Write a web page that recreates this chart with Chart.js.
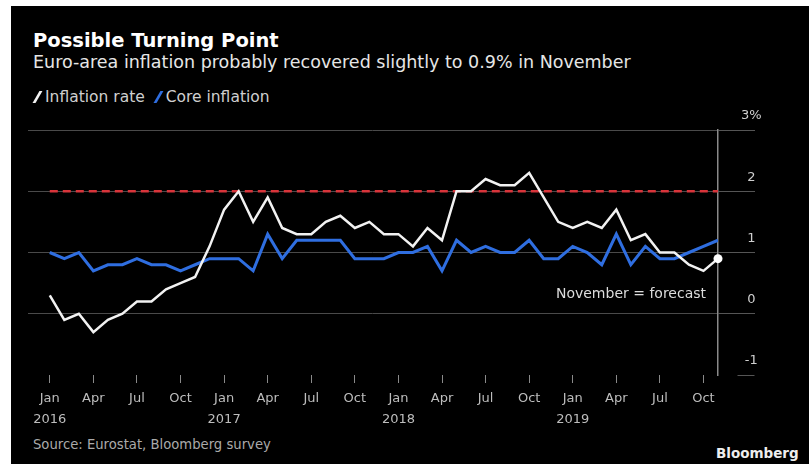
<!DOCTYPE html>
<html>
<head>
<meta charset="utf-8">
<script src="https://cdn.jsdelivr.net/npm/chart.js@4/dist/chart.umd.min.js"></script>
<style>
  body { margin: 0; background: #fff; width: 809px; height: 464px; overflow: hidden; font-family: "DejaVu Sans", sans-serif; }
  #panel { position: absolute; left: 11px; top: 6px; width: 798px; height: 458px; background: #000; }
  .t { position: absolute; white-space: nowrap; }
  #title { left: 22px; top: 24px; font-size: 19.5px; line-height: 22px; font-weight: bold; color: #fff; }
  #subtitle { left: 22px; top: 46px; font-size: 17.5px; line-height: 20px; color: #e6e6e6; }
  #legend { left: 22px; top: 83px; font-size: 15.5px; line-height: 16px; color: #cfcfcf; }
  .slash { display: inline-block; width: 3px; height: 12px; transform: skewX(-30deg); margin: 0 6px 0 3px; vertical-align: -1px; }
  #source { left: 22px; top: 431px; font-size: 13.2px; line-height: 15px; color: #aaa; }
  #brand { left: 705px; top: 440px; font-size: 13.5px; line-height: 15px; font-weight: bold; color: #eee; }
  #wrap { position: absolute; left: 0; top: 104px; }
</style>
</head>
<body>
<div id="panel">
  <div class="t" id="title">Possible Turning Point</div>
  <div class="t" id="subtitle">Euro-area inflation probably recovered slightly to 0.9% in November</div>
  <div class="t" id="legend"><span class="slash" style="background:#f2f2f2"></span>Inflation rate <span class="slash" style="background:#2f6ee0;margin-left:7px"></span>Core inflation</div>
  <div id="wrap"><canvas id="chart" width="798" height="320"></canvas></div>
  <div class="t" id="source">Source: Eurostat, Bloomberg survey</div>
  <div class="t" id="brand">Bloomberg</div>
</div>
<script>
// monthly, Jan 2016 .. Nov 2019
const months = ["Jan", "Feb", "Mar", "Apr", "May", "Jun", "Jul", "Aug", "Sep", "Oct", "Nov", "Dec"];
const startYear = 2016;

const inflation = [
  0.3, -0.1, 0.0, -0.3, -0.1, 0.0, 0.2, 0.2, 0.4, 0.5, 0.6, 1.1,
  1.7, 2.0, 1.5, 1.9, 1.4, 1.3, 1.3, 1.5, 1.6, 1.4, 1.5, 1.3,
  1.3, 1.1, 1.4, 1.2, 2.0, 2.0, 2.2, 2.1, 2.1, 2.3, 1.9, 1.5,
  1.4, 1.5, 1.4, 1.7, 1.2, 1.3, 1.0, 1.0, 0.8, 0.7, 0.9
];
const core = [
  1.0, 0.9, 1.0, 0.7, 0.8, 0.8, 0.9, 0.8, 0.8, 0.7, 0.8, 0.9,
  0.9, 0.9, 0.7, 1.3, 0.9, 1.2, 1.2, 1.2, 1.2, 0.9, 0.9, 0.9,
  1.0, 1.0, 1.1, 0.7, 1.2, 1.0, 1.1, 1.0, 1.0, 1.2, 0.9, 0.9,
  1.1, 1.0, 0.8, 1.3, 0.8, 1.1, 0.9, 0.9, 1.0, 1.1, 1.2
];
const target = 2;

const xTicks = [0, 3, 6, 9, 12, 15, 18, 21, 24, 27, 30, 33, 36, 39, 42, 45];
const yTicks = [-1, 0, 1, 2, 3];
const noteText = "November = forecast";

const last = inflation.length - 1;
const toPoints = arr => arr.map((v, i) => ({ x: i, y: v }));

const notePlugin = {
  id: "note",
  afterDatasetsDraw(chart) {
    const { ctx, scales: { x, y } } = chart;
    ctx.save();
    ctx.font = '14px "DejaVu Sans"';
    ctx.fillStyle = "#dcdcdc";
    ctx.textAlign = "right";
    ctx.textBaseline = "middle";
    ctx.fillText(noteText, x.getPixelForValue(last) - 12, y.getPixelForValue(0) - 19);
    ctx.restore();
  }
};

new Chart(document.getElementById("chart"), {
  type: "line",
  data: {
    datasets: [
      {
        label: "Inflation rate",
        data: toPoints(inflation),
        borderColor: "#f2f2f2",
        borderWidth: 2.5,
        pointRadius: c => c.dataIndex === last ? 4.5 : 0,
        pointBackgroundColor: "#fff",
        pointBorderWidth: 0,
        clip: false
      },
      {
        label: "Core inflation",
        data: toPoints(core),
        borderColor: "#2f6ee0",
        borderWidth: 3,
        pointRadius: 0
      },
      {
        label: "Target",
        data: [{ x: 0, y: target }, { x: last, y: target }],
        borderColor: "#d8343a",
        borderWidth: 2.5,
        borderDash: [8, 5],
        pointRadius: 0
      }
    ]
  },
  options: {
    responsive: false,
    animation: false,
    layout: { padding: { left: 17, top: 20, right: 0, bottom: 0 } },
    plugins: { legend: { display: false }, tooltip: { enabled: false } },
    scales: {
      x: {
        type: "linear",
        min: -1.5,
        max: last,
        afterBuildTicks: s => { s.ticks = xTicks.map(v => ({ value: v })); },
        afterFit: s => { s.height = 55; },
        grid: { drawOnChartArea: false, color: "#8a8a8a", tickLength: 8 },
        border: { display: false },
        ticks: {
          color: "#bdbdbd",
          font: { family: "DejaVu Sans", size: 13, lineHeight: 1.6 },
          padding: 5,
          maxRotation: 0,
          autoSkip: false,
          callback: v => v % 12 === 0 ? [months[v % 12], String(startYear + v / 12)] : months[v % 12]
        }
      },
      y: {
        position: "right",
        min: -1,
        max: 3,
        afterBuildTicks: s => { s.ticks = yTicks.map(v => ({ value: v })); },
        afterFit: s => { s.width = 91; },
        grid: {
          color: c => c.tick && c.tick.value === -1 ? "rgba(0,0,0,0)" : "#4a4a4a",
          tickColor: "#555",
          tickLength: 37,
          tickBorderDash: c => c.tick && c.tick.value === -1 ? [0, 19, 17, 50] : []
        },
        border: { color: "#8a8a8a", width: 1.5 },
        ticks: {
          color: "#cfcfcf",
          font: { family: "DejaVu Sans", size: 13 },
          padding: -14,
          crossAlign: "center",
          labelOffset: -14,
          callback: v => v === 3 ? "3%" : String(v)
        }
      }
    }
  },
  plugins: [notePlugin]
});
</script>
</body>
</html>
